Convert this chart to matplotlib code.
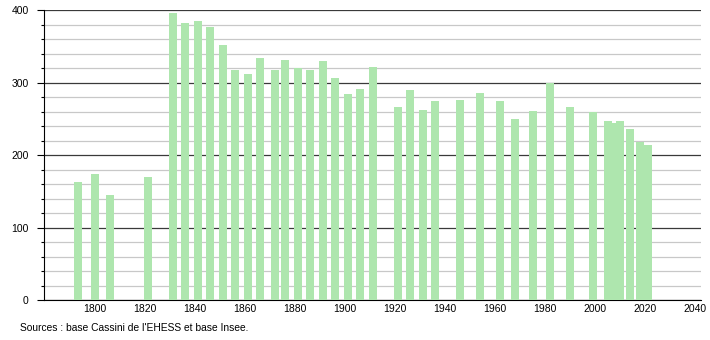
import matplotlib.pyplot as plt
from matplotlib.ticker import MultipleLocator

plt.rcParams['font.family'] = ['Liberation Sans', 'DejaVu Sans']

years = [1793, 1800, 1806, 1821, 1831, 1836, 1841, 1846, 1851, 1856,
         1861, 1866, 1872, 1876, 1881, 1886, 1891, 1896, 1901, 1906,
         1911, 1921, 1926, 1931, 1936, 1946, 1954, 1962, 1968, 1975,
         1982, 1990, 1999, 2005, 2007, 2010, 2014, 2018, 2021]
population = [163, 174, 145, 170, 396, 382, 385, 377, 352, 318,
              312, 334, 318, 332, 320, 317, 330, 306, 284, 291,
              322, 266, 290, 262, 275, 276, 286, 275, 250, 261,
              299, 266, 259, 247, 244, 247, 236, 218, 214]
source_text = "Sources : base Cassini de l'EHESS et base Insee."

fig = plt.figure(figsize=(7.1, 3.4), dpi=100)
ax = fig.add_axes([44 / 710, 1 - 300 / 340, 657 / 710, 289.7 / 340])

ax.bar(years, population, width=3.2, color='#aee6ae', zorder=3)

ax.set_xlim(1779.6, 2042.3)
ax.set_ylim(0, 400)
ax.yaxis.set_major_locator(MultipleLocator(100))
ax.yaxis.set_minor_locator(MultipleLocator(20))
ax.set_xticks(range(1800, 2041, 20))

ax.grid(which='minor', axis='y', color='#c8c8c8', linewidth=0.9, zorder=1)
ax.grid(which='major', axis='y', color='#3a3a3a', linewidth=0.9, zorder=2)

for s in ['top', 'right']:
    ax.spines[s].set_visible(False)

ax.tick_params(axis='y', which='major', length=5, width=0.8, labelsize=7.5, pad=6)
ax.tick_params(axis='y', which='minor', length=2, width=0.8)
ax.tick_params(axis='x', length=0, labelsize=7.5, pad=3)

fig.text(20 / 710, 1 - 328 / 340, source_text, fontsize=7.4, va='center', ha='left')

fig.savefig('out.png', dpi=100)
